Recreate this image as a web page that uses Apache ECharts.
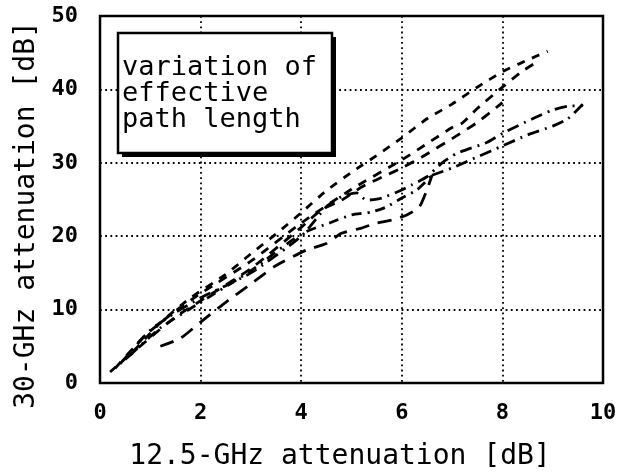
<!DOCTYPE html>
<html>
<head>
<meta charset="utf-8">
<script src="https://cdn.jsdelivr.net/npm/echarts@6/dist/echarts.min.js"></script>
<style>
  html, body { margin: 0; padding: 0; background: #fff; }
  #chart { width: 621px; height: 475px; }
</style>
</head>
<body>
<div id="chart"></div>
<script>
// tick values
var xTicks = [0, 2, 4, 6, 8, 10];
var yTicks = [0, 10, 20, 30, 40, 50];

// curves, [12.5-GHz dB, 30-GHz dB]
var curveA = [[0.2,1.5],[0.7,4.6],[1.2,8.2],[1.8,11.6],[2.5,14.8],[3,17.6],[3.5,20.3],[4,23.2],[4.5,26.2],[5,28.7],[5.5,31],[6,33.4],[6.5,36],[7,38],[7.5,40.3],[8,42.4],[8.5,44],[8.9,45.2]];
var curveB = [[0.3,2],[0.9,6.5],[1.5,9.8],[2,12.2],[3,16.6],[4,21.8],[5,26.4],[6,30.4],[6.5,32.6],[7,34.8],[7.2,35.4],[7.5,37.4],[8,40.3],[8.4,42.5],[8.7,43.8]];
var curveC = [[0.5,3.2],[1,6.2],[1.5,9],[2,11.2],[3,15.6],[4,21.2],[4.4,23.6],[4.8,24.9],[5.2,26.7],[5.5,27.7],[6,29.3],[6.4,30.8],[7,33.3],[7.5,35.5],[8,38.2]];
var curveD = [[0.4,2.6],[1,7.2],[1.5,9.6],[2,11.6],[3,15],[4,20],[4.5,24],[4.8,25.4],[5.1,25.9],[5.3,24.9],[5.6,25.2],[6,26.3],[6.2,27],[6.5,28.1],[6.8,30],[7.1,31.3],[7.7,32.8],[8,34],[8.6,36],[9,37.2],[9.3,37.7],[9.6,37.8]];
var curveE = [[1.2,5],[1.6,6.1],[2,8.3],[2.5,11],[3,13.5],[3.5,16],[4.1,18.1],[4.5,19],[4.8,20.4],[5.2,21.1],[5.5,21.8],[5.8,22.2],[6.1,22.9],[6.35,24],[6.5,26.3],[6.6,28.3]];
var curveE2 = [[6.6,28.3],[7,29.3],[7.5,30.8],[8,32.3],[8.5,33.8],[9,35],[9.3,36],[9.6,38]];
var curveF = [[0.6,3.8],[1.2,7.5],[2,11],[3,15.3],[4,20.3],[4.6,21.9],[5,22.9],[5.4,23.3],[5.7,24],[6,25.2],[6.3,26.3],[6.6,28.3]];

var boxLines = ['variation of', 'effective', 'path length'];

var myChart = echarts.init(document.getElementById('chart'));

function curve(data, dash) {
  return {
    type: 'line',
    data: data,
    showSymbol: false,
    smooth: 0.2,
    lineStyle: { color: '#000', width: 2.8, type: dash, cap: 'butt' },
    z: 3
  };
}

var graphic = [
  // shadow of the annotation box
  { type: 'rect', shape: { x: 122, y: 37, width: 214, height: 120 }, style: { fill: '#000' }, z: 10 },
  { type: 'rect', shape: { x: 118, y: 33, width: 214, height: 120 }, style: { fill: '#fff', stroke: '#000', lineWidth: 2.5 }, z: 11 },
  // axis names
  { type: 'text', x: 340, y: 457, z: 12,
    style: { text: '12.5-GHz attenuation [dB]', font: '28px "DejaVu Sans Mono"', fill: '#000',
             align: 'center', verticalAlign: 'middle', textAlign: 'center', textVerticalAlign: 'middle' } },
  { type: 'text', x: 27, y: 215, rotation: Math.PI / 2, z: 12,
    style: { text: '30-GHz attenuation [dB]', font: '28px "DejaVu Sans Mono"', fill: '#000',
             align: 'center', verticalAlign: 'middle', textAlign: 'center', textVerticalAlign: 'middle' } }
];
boxLines.forEach(function (t, i) {
  graphic.push({ type: 'text', x: 122, y: 68 + i * 26, z: 12,
    style: { text: t, font: '27px "DejaVu Sans Mono"', fill: '#000',
             align: 'left', verticalAlign: 'middle', textAlign: 'left', textVerticalAlign: 'middle' } });
});

var option = {
  animation: false,
  backgroundColor: '#fff',
  grid: {
    left: 100, right: 18, top: 16, bottom: 92,
    show: true, borderColor: '#000', borderWidth: 2.5
  },
  xAxis: {
    type: 'value', min: xTicks[0], max: xTicks[xTicks.length - 1], interval: 2,
    axisLine: { show: false },
    axisTick: { show: false },
    axisLabel: { color: '#000', fontSize: 22, fontWeight: 'bold', fontFamily: 'DejaVu Sans Mono', margin: 19 },
    splitLine: { show: true, lineStyle: { color: '#000', type: [1.8, 3.4], width: 1.8 } }
  },
  yAxis: {
    type: 'value', min: yTicks[0], max: yTicks[yTicks.length - 1], interval: 10,
    axisLine: { show: false },
    axisTick: { show: false },
    axisLabel: { color: '#000', fontSize: 22, fontWeight: 'bold', fontFamily: 'DejaVu Sans Mono', margin: 22 },
    splitLine: { show: true, lineStyle: { color: '#000', type: [1.8, 3.4], width: 1.8 } }
  },
  graphic: graphic,
  series: [
    curve(curveA, [8, 8]),
    curve(curveB, [9, 8]),
    curve(curveC, [10, 8]),
    curve(curveD, [12, 6, 2, 6]),
    curve(curveE, [14, 9]),
    curve(curveE2, [12, 6, 2, 6]),
    curve(curveF, [10, 6, 2, 6])
  ]
};

myChart.setOption(option);
window.addEventListener('resize', function () { myChart.resize(); });
</script>
</body>
</html>
